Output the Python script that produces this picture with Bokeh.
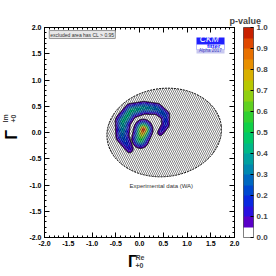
import numpy as np
from bokeh.plotting import figure
from bokeh.models import (LinearColorMapper, ColorBar, FixedTicker, SingleIntervalTicker,
                          LinearAxis, Label, BoxAnnotation, PrintfTickFormatter, Range1d)
from bokeh.embed import file_html
from bokeh.resources import INLINE

# ---------------- data ----------------
axis_ticks = [-2.0, -1.5, -1.0, -0.5, 0.0, 0.5, 1.0, 1.5, 2.0]
pvalue_ticks = [0.0, 0.1, 0.2, 0.3, 0.4, 0.5, 0.6, 0.7, 0.8, 0.9, 1.0]
pvalue_levels = [0.05, 0.10, 0.15, 0.20, 0.25, 0.30, 0.35, 0.40, 0.45, 0.50,
                 0.55, 0.60, 0.65, 0.70, 0.75, 0.80, 0.85, 0.90, 0.95, 1.00]
palette = ["#ffffff", "#5a00c8", "#2a10e0", "#0a28e0", "#0048d0", "#0068c0",
           "#0088b0", "#00a0a0", "#00b888", "#00c868", "#10d048", "#30d030",
           "#60d020", "#90d010", "#b8c800", "#d8b000", "#e89000", "#e87000",
           "#e04800", "#c82000"]

# ridge of the crescent-shaped solution (Re, Im, p-value and width along the ridge)
crescent_re = [-0.21, -0.36, -0.35, -0.18, 0.09, 0.37, 0.54, 0.55, 0.44]
crescent_im = [-0.31, -0.07, 0.21, 0.41, 0.47, 0.45, 0.33, 0.15, 0.00]
crescent_pv = [0.12, 0.26, 0.42, 0.43, 0.36, 0.28, 0.22, 0.16, 0.10]
crescent_wd = [0.058, 0.076, 0.078, 0.070, 0.062, 0.058, 0.055, 0.052, 0.050]

# central solution
blob_re = [0.08, 0.02]
blob_im = [0.05, -0.12]
blob_pv = [0.97, 0.55]
blob_wd = [0.084, 0.084]

# experimental (WA) region
exp_re = [0.52]
exp_im = [0.0]
exp_w = [2.42]
exp_h = [1.68]
exp_angle = [0.12]

# ---------------- p-value map ----------------
def ridge(X, Y, rx, ry, rv, rw):
    Z = np.zeros_like(X)
    for i in range(len(rx) - 1):
        ax, ay, bx, by = rx[i], ry[i], rx[i + 1], ry[i + 1]
        dx, dy = bx - ax, by - ay
        t = np.clip(((X - ax) * dx + (Y - ay) * dy) / (dx * dx + dy * dy), 0, 1)
        cx, cy = ax + t * dx, ay + t * dy
        d2 = (X - cx) ** 2 + (Y - cy) ** 2
        v = rv[i] + t * (rv[i + 1] - rv[i])
        w = rw[i] + t * (rw[i + 1] - rw[i])
        Z = np.maximum(Z, v * np.exp(-d2 / (2 * w * w)))
    return Z

gx = np.linspace(-1.0, 1.2, 221)
gy = np.linspace(-0.9, 0.9, 181)
X, Y = np.meshgrid(gx, gy)
Z = np.maximum(ridge(X, Y, crescent_re, crescent_im, crescent_pv, crescent_wd),
               ridge(X, Y, blob_re, blob_im, blob_pv, blob_wd))

FONT = "Liberation Sans"

p = figure(frame_width=190, frame_height=210, x_range=Range1d(-2, 2), y_range=Range1d(-2, 2),
           output_backend="svg", toolbar_location=None,
           min_border_left=44, min_border_top=27, min_border_bottom=37, min_border_right=0,
           background_fill_color="white", border_fill_color="white",
           outline_line_color="black", outline_line_width=1)
p.grid.visible = False

for ax in (p.xaxis[0], p.yaxis[0]):
    ax.ticker = SingleIntervalTicker(interval=0.5, num_minor_ticks=5)
    ax.formatter = PrintfTickFormatter(format="%.1f")
    ax.major_tick_in = 5
    ax.major_tick_out = 0
    ax.minor_tick_in = 2
    ax.minor_tick_out = 0
    ax.major_label_standoff = 3
    ax.major_label_text_font = FONT
    ax.major_label_text_font_style = "bold"
    ax.major_label_text_font_size = "7px"
    ax.major_label_text_color = "black"
    ax.axis_line_color = "black"
    ax.axis_label_text_font = FONT
    ax.axis_label_text_font_style = "bold"
    ax.axis_label_text_font_size = "16px"
    ax.axis_label_text_color = "black"

p.xaxis[0].axis_label = "Γ   "
p.xaxis[0].axis_label_standoff = 4
p.yaxis[0].axis_label = "Γ "
p.yaxis[0].axis_label_standoff = 6

for loc in ("above", "right"):
    ax = LinearAxis(ticker=SingleIntervalTicker(interval=0.5, num_minor_ticks=5),
                    major_tick_in=5, major_tick_out=0, minor_tick_in=2, minor_tick_out=0,
                    major_label_text_font_size="1px", major_label_text_color=None,
                    major_label_standoff=0, axis_line_color="black")
    p.add_layout(ax, loc)

p.contour(X, Y, Z, levels=pvalue_levels, fill_color=palette[1:], line_color=None)
p.contour(X, Y, Z, levels=[0.05], fill_color=None, line_color="black", line_width=0.8)

p.ellipse(x=exp_re, y=exp_im, width=exp_w, height=exp_h, angle=exp_angle,
          fill_color=None, hatch_pattern="\\", hatch_scale=4, hatch_weight=0.55,
          hatch_color="black", hatch_alpha=0.9,
          line_color="black", line_dash="2 1", line_width=1)

# super/subscripts of the axis titles, placed in side panels so they are not clipped
p.add_layout(Label(x=-99, y=-32, x_units="screen", y_units="screen", text="Re\n+0",
                   text_font=FONT, text_font_style="bold", text_font_size="7px",
                   text_line_height=1.2), "right")

mapper = LinearColorMapper(palette=palette, low=0, high=1)
cb = ColorBar(color_mapper=mapper, ticker=FixedTicker(ticks=pvalue_ticks),
              formatter=PrintfTickFormatter(format="%.1f"), width=10, margin=0, padding=0,
              label_standoff=3, major_label_text_font=FONT, major_label_text_font_style="bold",
              major_label_text_font_size="8px", major_tick_in=3, major_tick_out=0,
              major_tick_line_color="black", bar_line_color="black", bar_line_width=0.5,
              border_line_color=None, background_fill_color=None)
p.add_layout(cb, "right")

p.add_layout(Label(x=185, y=7, x_units="screen", y_units="screen", text="p-value",
                   text_font=FONT, text_font_style="bold", text_font_size="9px",
                   text_baseline="alphabetic"), "above")
p.add_layout(Label(x=-27, y=-105, x_units="screen", y_units="screen", text="Im\n+0",
                   angle=np.pi / 2, text_font=FONT, text_font_style="bold",
                   text_font_size="7px", text_line_height=1.2), "above")

# texts inside the frame
p.add_layout(Label(x=-1.9, y=1.79, text="excluded area has CL > 0.95", text_font=FONT,
                   text_font_size="5px", text_color="#333333",
                   background_fill_color="#e8e8e8", border_line_color="#999999", padding=1))
p.add_layout(Label(x=0.46, y=-1.07, text="Experimental data (WA)", text_font=FONT,
                   text_font_size="6px", text_color="#333333", text_align="center"))

# logo
p.add_layout(BoxAnnotation(left=1.2, right=1.79, top=1.81, bottom=1.676,
                           fill_color="#2020ff", fill_alpha=1, line_color=None))
p.add_layout(BoxAnnotation(left=1.2, right=1.79, top=1.676, bottom=1.58,
                           fill_color="white", fill_alpha=1, line_color="#2020ff", line_width=1))
p.add_layout(BoxAnnotation(left=1.2, right=1.79, top=1.58, bottom=1.505,
                           fill_color="#c8c8f0", fill_alpha=1, line_color=None))
p.add_layout(Label(x=1.27, y=1.69, text="CKM", text_font=FONT, text_font_style="italic",
                   text_font_size="8.5px", text_color="white"))
p.add_layout(Label(x=1.42, y=1.595, text="fitter", text_font=FONT, text_font_style="bold",
                   text_font_size="6px", text_color="#2020ff"))
p.add_layout(Label(x=1.25, y=1.52, text="Alpha 2017", text_font=FONT,
                   text_font_size="4.5px", text_color="#4040c0"))

open("out.html", "w").write(file_html(p, INLINE))
